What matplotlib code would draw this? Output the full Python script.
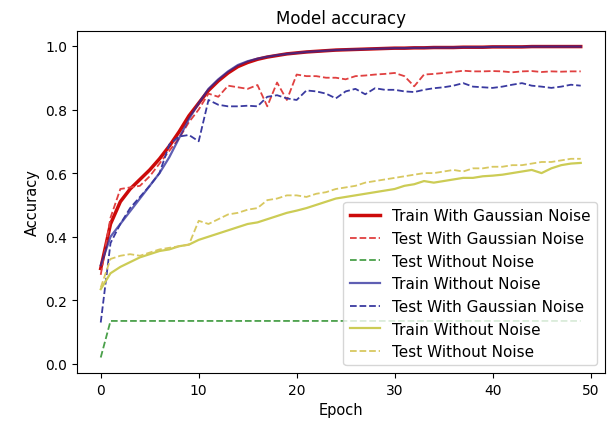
import matplotlib.pyplot as plt
import numpy as np

epochs = np.arange(50)

train_gauss = [0.30, 0.44, 0.51, 0.55, 0.58, 0.61, 0.645, 0.685, 0.73, 0.78,
               0.82, 0.86, 0.89, 0.915, 0.935, 0.948, 0.958, 0.965, 0.97, 0.975,
               0.978, 0.981, 0.983, 0.985, 0.987, 0.988, 0.989, 0.99, 0.991, 0.992,
               0.993, 0.993, 0.994, 0.994, 0.995, 0.995, 0.995, 0.996, 0.996, 0.996,
               0.997, 0.997, 0.997, 0.997, 0.998, 0.998, 0.998, 0.998, 0.998, 0.998]
test_gauss = [0.28, 0.46, 0.55, 0.555, 0.56, 0.59, 0.63, 0.67, 0.71, 0.76,
              0.80, 0.85, 0.84, 0.875, 0.87, 0.865, 0.877, 0.81, 0.885, 0.83,
              0.91, 0.905, 0.905, 0.90, 0.90, 0.895, 0.905, 0.907, 0.91, 0.912,
              0.915, 0.905, 0.873, 0.91, 0.912, 0.915, 0.918, 0.922, 0.92, 0.92,
              0.921, 0.92, 0.917, 0.92, 0.921, 0.918, 0.92, 0.919, 0.92, 0.92]
test_clean = [0.02] + [0.135] * 49
train_clean = [0.31, 0.40, 0.44, 0.48, 0.52, 0.56, 0.60, 0.65, 0.71, 0.77,
               0.82, 0.865, 0.895, 0.92, 0.94, 0.952, 0.96, 0.966, 0.971, 0.975,
               0.978, 0.981, 0.983, 0.985, 0.987, 0.988, 0.989, 0.99, 0.991, 0.992,
               0.993, 0.993, 0.994, 0.994, 0.995, 0.995, 0.995, 0.996, 0.996, 0.996,
               0.997, 0.997, 0.997, 0.997, 0.998, 0.998, 0.998, 0.998, 0.998, 0.998]
test_gauss2 = [0.13, 0.38, 0.44, 0.49, 0.525, 0.56, 0.60, 0.69, 0.715, 0.72,
               0.70, 0.83, 0.815, 0.81, 0.81, 0.812, 0.81, 0.84, 0.845, 0.835,
               0.83, 0.86, 0.857, 0.85, 0.835, 0.857, 0.865, 0.848, 0.867, 0.862,
               0.862, 0.857, 0.855, 0.862, 0.867, 0.87, 0.875, 0.883, 0.872, 0.87,
               0.868, 0.872, 0.878, 0.883, 0.875, 0.872, 0.868, 0.872, 0.878, 0.875]
train_clean2 = [0.235, 0.285, 0.305, 0.32, 0.335, 0.345, 0.355, 0.36, 0.37, 0.375,
                0.39, 0.40, 0.41, 0.42, 0.43, 0.44, 0.445, 0.455, 0.465, 0.475,
                0.482, 0.49, 0.50, 0.51, 0.52, 0.525, 0.53, 0.535, 0.54, 0.545,
                0.55, 0.56, 0.565, 0.575, 0.57, 0.575, 0.58, 0.585, 0.585, 0.59,
                0.592, 0.595, 0.60, 0.605, 0.61, 0.60, 0.615, 0.625, 0.63, 0.632]
test_clean2 = [0.24, 0.33, 0.34, 0.345, 0.34, 0.35, 0.36, 0.365, 0.37, 0.375,
               0.45, 0.44, 0.455, 0.47, 0.475, 0.485, 0.49, 0.515, 0.52, 0.53,
               0.53, 0.525, 0.535, 0.54, 0.55, 0.555, 0.56, 0.57, 0.575, 0.58,
               0.585, 0.59, 0.595, 0.60, 0.60, 0.605, 0.61, 0.605, 0.615, 0.615,
               0.62, 0.62, 0.625, 0.625, 0.63, 0.635, 0.635, 0.64, 0.645, 0.645]

fig = plt.figure(figsize=(6.09, 4.27), dpi=100)
ax = fig.add_axes([0.126, 0.124, 0.867, 0.801])

ax.plot(epochs, train_gauss, color='#cc0a0a', lw=2.5, label='Train With Gaussian Noise')
ax.plot(epochs, test_gauss, color='#e04040', lw=1.3, ls='--', label='Test With Gaussian Noise')
ax.plot(epochs, test_clean, color='#4aa04a', lw=1.3, ls='--', label='Test Without Noise')
ax.plot(epochs, train_clean, color='#2a2a9a', lw=1.6, alpha=0.75, label='Train Without Noise')
ax.plot(epochs, test_gauss2, color='#3a3aa0', lw=1.3, ls='--', label='Test With Gaussian Noise')
ax.plot(epochs, train_clean2, color='#cccc55', lw=1.6, label='Train Without Noise')
ax.plot(epochs, test_clean2, color='#d8c860', lw=1.3, ls='--', label='Test Without Noise')

ax.set_title('Model accuracy', fontsize=12)
ax.set_xlabel('Epoch', fontsize=10.5)
ax.set_ylabel('Accuracy', fontsize=10.5)
ax.tick_params(labelsize=10)
ax.legend(loc='lower right', fontsize=11)

fig.savefig('out.png', dpi=100)
